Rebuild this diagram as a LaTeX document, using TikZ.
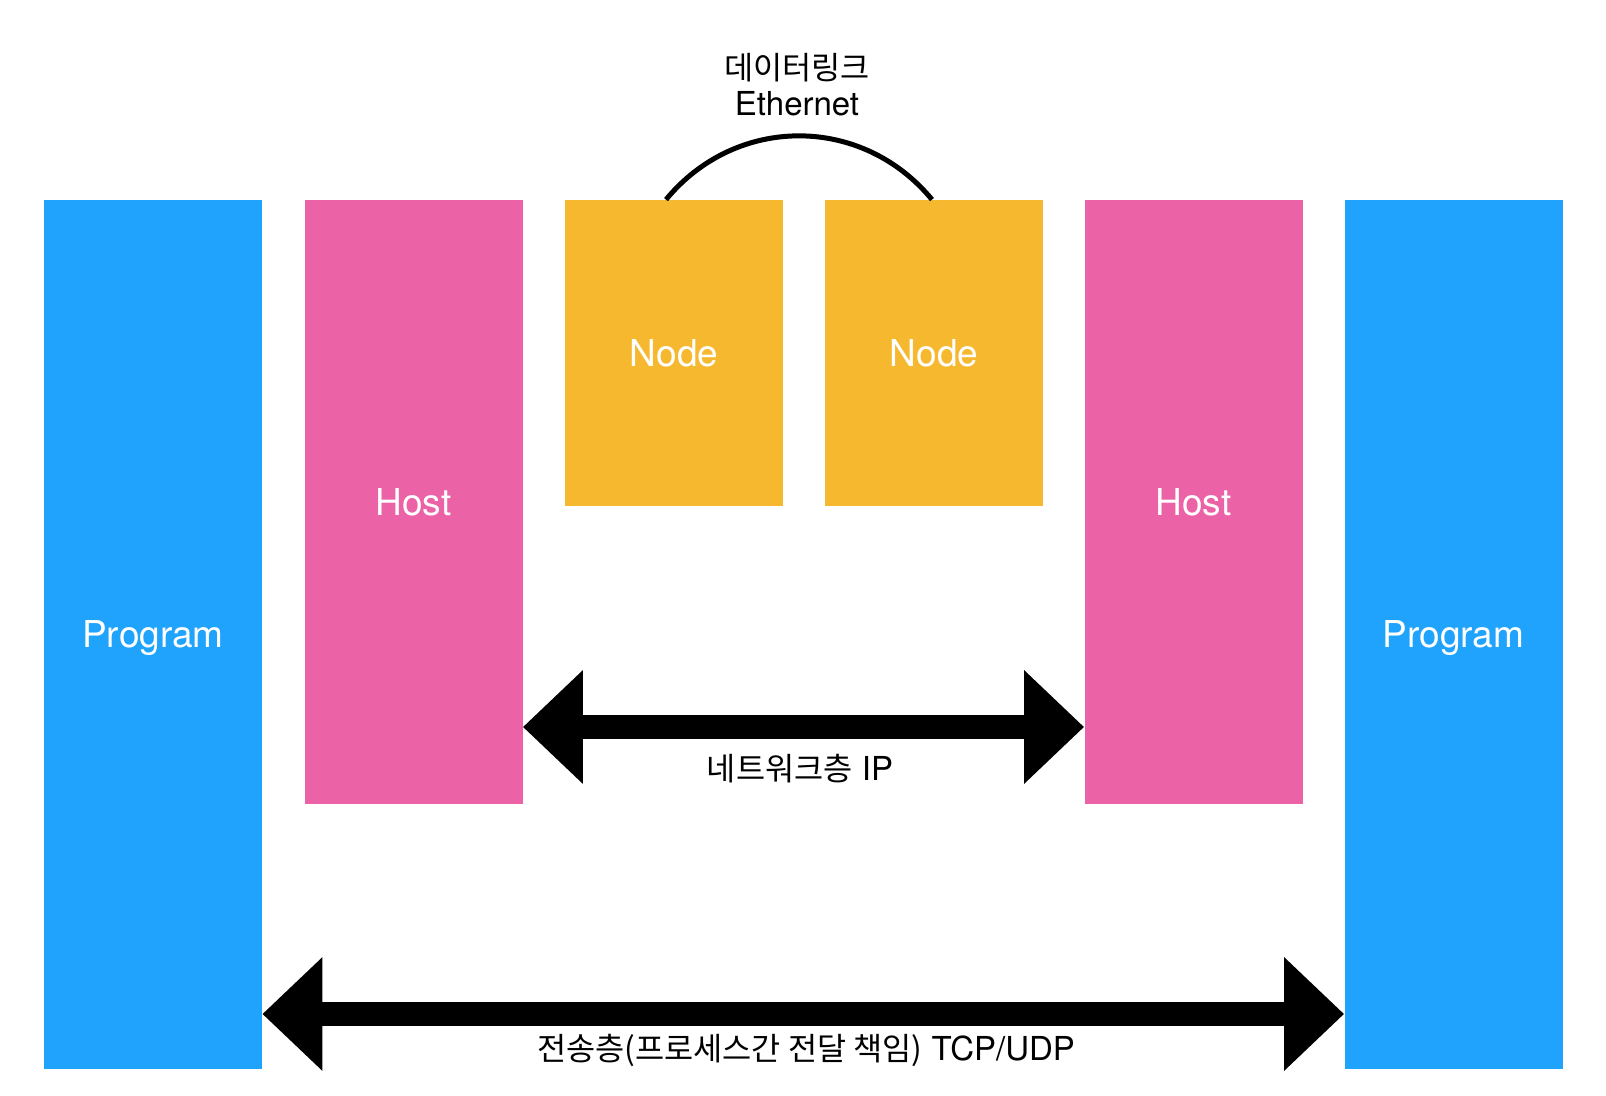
\documentclass[tikz,border=0pt]{standalone}
\usepackage{fontspec}
\usepackage{tikz}
\usetikzlibrary{arrows.meta}
\setmainfont{TeX Gyre Heros}
\newfontfamily\kr[Scale=0.96]{Noto Sans CJK KR}
\definecolor{progblue}{RGB}{31,163,253}
\definecolor{hostpink}{RGB}{236,98,166}
\definecolor{nodeorange}{RGB}{246,184,46}

\begin{document}
\begin{tikzpicture}[x=0.5pt,y=-0.5pt,
  box/.style={minimum width=109pt,inner sep=0pt,text depth=0pt,text=white,font=\fontsize{18.5}{22}\selectfont},
  prog/.style={box,fill=progblue,minimum height=434.5pt},
  host/.style={box,fill=hostpink,minimum height=302pt},
  link/.style={box,fill=nodeorange,minimum height=153pt},
  layer/.style={line width=12pt,{Triangle[length=30pt,width=55pt]}-{Triangle[length=30pt,width=55pt]}},
  lbl/.style={font=\fontsize{16.5}{18}\selectfont,align=center}]
  \useasboundingbox (0,0) rectangle (1606,1096);

  \node[prog] (p1) at (153,634.5) {Program};
  \node[host] (h1) at (413.5,502) {Host};
  \node[link] (n1) at (674,353) {Node};
  \node[link] (n2) at (934,353) {Node};
  \node[host] (h2) at (1193.5,502) {Host};
  \node[prog] (p2) at (1453.5,634.5) {Program};

  \coordinate (ip) at (0,727);
  \coordinate (tcp) at (0,1014);

  \draw[layer] (h1.east |- ip) -- (h2.west |- ip);
  \draw[layer] (p1.east |- tcp) -- (p2.west |- tcp);

  \draw[line width=2.5pt] ([xshift=-4pt]n1.north) .. controls +(70,-85) and +(-70,-85) .. ([xshift=-1pt]n2.north);

  \node[lbl] (dl) at (797,85) {{\kr 데이터링크}\\Ethernet};
  \node[lbl] (net) at (800,769) {{\kr 네트워크층} IP};
  \node[lbl] (tr) at (806,1050) {{\kr 전송층(프로세스간 전달 책임)} TCP/UDP};
\end{tikzpicture}
\end{document}
